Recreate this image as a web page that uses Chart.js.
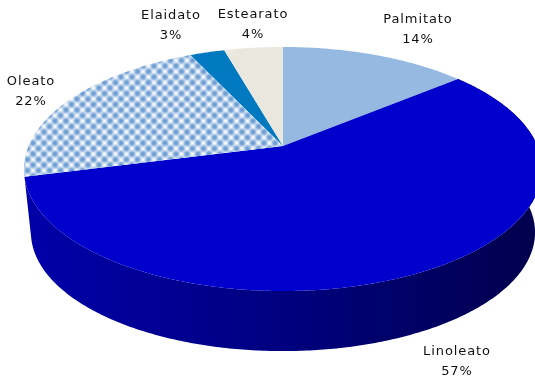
<!DOCTYPE html>
<html>
<head>
<meta charset="utf-8">
<style>
html, body { margin: 0; padding: 0; background: #fff; }
canvas { display: block; }
</style>
<script src="https://cdn.jsdelivr.net/npm/chart.js@4"></script>
</head>
<body>
<canvas id="myChart" width="535" height="378"></canvas>
<script>
var categories = ['Palmitato', 'Linoleato', 'Oleato', 'Elaidato', 'Estearato'];
var percents = [14, 57, 22, 2.6, 4.4];
var labelSpots = [[418, 20], [457, 352], [31, 82], [171, 16], [253, 15]];

// perspective of the tilted pie
var apexX = 283, apexY = 146, radiusX = 254.4, radiusY = 117.7, tilt = 0.1885;
// lower plane of the pie, seen further from the camera
var lowerScale = 0.973, lowerY = 210;

function project(angle, scale, y0) {
    var u = Math.cos(angle), v = Math.sin(angle);
    var w = 1 - tilt * v;
    return [apexX + scale * radiusX * u / w, y0 + scale * radiusY * v / w];
}

function rim(ctx, from, to, scale, y0) {
    var steps = Math.max(2, Math.ceil(Math.abs(to - from) * 90));
    for (var i = 0; i <= steps; i++) {
        var p = project(from + (to - from) * i / steps, scale, y0);
        ctx.lineTo(p[0], p[1]);
    }
}

function checkPattern(ctx) {
    var c = document.createElement('canvas');
    c.width = 11;
    c.height = 11;
    var p = c.getContext('2d');
    p.fillStyle = '#ffffff';
    p.fillRect(0, 0, 11, 11);
    p.filter = 'blur(0.8px)';
    p.fillStyle = '#6a9bd2';
    [[0, 0], [5.5, 5.5], [11, 0], [0, 11], [11, 11]].forEach(function(d) {
        p.beginPath();
        p.arc(d[0], d[1], 3.2, 0, Math.PI * 2);
        p.fill();
    });
    return ctx.createPattern(c, 'repeat');
}

class Arc3d extends Chart.ArcElement {
    draw(ctx) {
        var from = this.startAngle, to = this.endAngle;
        ctx.save();
        // only the slice running across the front shows its side wall
        if (from < Math.PI / 2 && to > Math.PI / 2) {
            var side = ctx.createLinearGradient(30, 0, 530, 0);
            side.addColorStop(0, '#0000a8');
            side.addColorStop(0.5, '#000080');
            side.addColorStop(1, '#00004e');
            ctx.fillStyle = side;
            ctx.beginPath();
            rim(ctx, from, to, 1, apexY);
            rim(ctx, to, from, lowerScale, lowerY);
            ctx.closePath();
            ctx.fill();
        }
        ctx.fillStyle = this.options.backgroundColor === 'pattern' ? checkPattern(ctx) : this.options.backgroundColor;
        ctx.beginPath();
        ctx.moveTo(apexX, apexY);
        rim(ctx, from, to, 1, apexY);
        ctx.closePath();
        ctx.fill();
        ctx.restore();
    }
}
Arc3d.id = 'arc3d';

class Pie3d extends Chart.PieController {}
Pie3d.id = 'pie3d';
Pie3d.defaults = { dataElementType: 'arc3d' };

Chart.register(Arc3d, Pie3d);

var sliceLabels = {
    id: 'sliceLabels',
    afterDatasetsDraw: function(chart) {
        var ctx = chart.ctx;
        ctx.save();
        ctx.font = '13px "DejaVu Sans"';
        ctx.letterSpacing = '0.9px';
        ctx.fillStyle = '#111111';
        ctx.textAlign = 'center';
        ctx.textBaseline = 'middle';
        categories.forEach(function(name, i) {
            ctx.fillText(name, labelSpots[i][0], labelSpots[i][1]);
            ctx.fillText(Math.round(percents[i]) + '%', labelSpots[i][0], labelSpots[i][1] + 20);
        });
        ctx.restore();
    }
};

var ctx = document.getElementById('myChart');
var myChart = new Chart(ctx, {
    type: 'pie3d',
    data: {
        labels: categories,
        datasets: [{
            data: percents,
            backgroundColor: ['#95b9e0', '#0000cc', 'pattern', '#0079c1', '#eae7df'],
            borderWidth: 0
        }]
    },
    options: {
        responsive: false,
        animation: false,
        events: [],
        plugins: {
            legend: { display: false },
            tooltip: { enabled: false }
        }
    },
    plugins: [sliceLabels]
});
</script>
</body>
</html>
